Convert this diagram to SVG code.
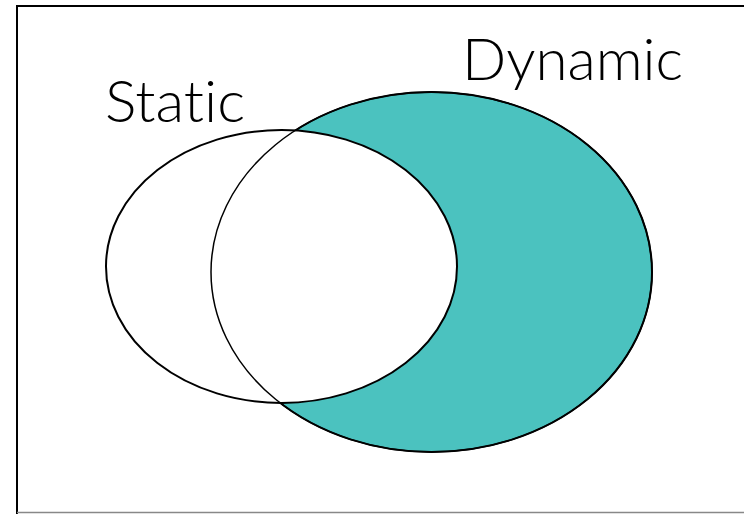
<svg xmlns="http://www.w3.org/2000/svg" width="744" height="514" viewBox="0 0 744 514">
<style>
.lbl{font-family:"Lato","Open Sans","Liberation Sans",sans-serif;font-weight:300;font-size:58px;fill:#000;font-variant-ligatures:none;font-feature-settings:"liga" 0}
</style>
<rect width="744" height="514" fill="#fff"/>
<g id="frame">
<path d="M17 514 V6 H744" fill="none" stroke="#000" stroke-width="2"/>
<path d="M17 512.5 H744" fill="none" stroke="#888" stroke-width="1.5"/>
</g>
<g id="dynamic">
<ellipse cx="431.5" cy="272" rx="220.5" ry="180" fill="#4BC2BF" stroke="#000" stroke-width="2"/>
<text class="lbl" x="462" y="80" textLength="221" lengthAdjust="spacingAndGlyphs">Dynamic</text>
</g>
<g id="static">
<ellipse cx="281.5" cy="266.5" rx="175.5" ry="136.5" fill="#fff" stroke="#000" stroke-width="2"/>
<text class="lbl" x="105" y="122" textLength="140" lengthAdjust="spacingAndGlyphs">Static</text>
</g>
<g id="overlap">
<ellipse cx="431.5" cy="272" rx="220.5" ry="180" fill="none" stroke="#000" stroke-width="1.5"/>
</g>
</svg>
